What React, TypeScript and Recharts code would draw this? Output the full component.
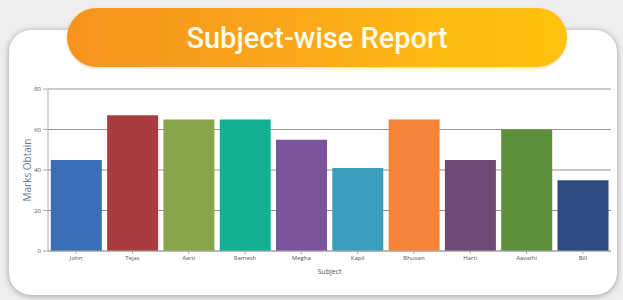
import React from 'react';
import { BarChart, Bar, XAxis, YAxis, CartesianGrid, Cell } from 'recharts';

const students = ['John', 'Tejas', 'Aarti', 'Ramesh', 'Megha', 'Kapil', 'Bhuvan', 'Harti', 'Aavathi', 'Bill'];
const marks = [45, 67, 65, 65, 55, 41, 65, 45, 60, 35];
const barColors = ['#3a6fb8', '#a83c41', '#87a64c', '#14b094', '#7a559c', '#3a9dba', '#f4843a', '#6d4b74', '#5e8f3b', '#2d4a80'];
const yTicks = [0, 20, 40, 60, 80];

const data = students.map((name, i) => ({ name, marks: marks[i] }));

export default function App() {
  return (
    <div style={{ position: 'absolute', left: 0, top: 0, width: 623, height: 300, background: '#eeeeee', overflow: 'hidden' }}>
      <div style={{ position: 'absolute', left: 9, top: 30, width: 608, height: 265, background: '#ffffff', borderRadius: 22, boxShadow: '0 1px 6px rgba(0,0,0,0.35)' }} />
      <div style={{ position: 'absolute', left: 67, top: 8, width: 500, height: 59, borderRadius: 30, background: 'linear-gradient(90deg, #f7931e 0%, #faa61a 45%, #fdbb12 75%, #ffc20e 100%)', boxShadow: '0 1px 3px rgba(200,120,0,0.3)', display: 'flex', alignItems: 'center', justifyContent: 'center', color: '#fffbea', fontFamily: 'Roboto, sans-serif', fontSize: 29, fontWeight: 500 }}>
        Subject-wise Report
      </div>
      <div style={{ position: 'absolute', left: 0, top: 0 }}>
        <BarChart width={623} height={300} data={data} margin={{ top: 89, right: 12, bottom: 24, left: 0 }} barCategoryGap="5%">
          <CartesianGrid vertical={false} stroke="#949494" />
          <XAxis dataKey="name" height={25} tick={{ fontSize: 6, fill: '#555', fontFamily: 'Open Sans, sans-serif' }} tickSize={3} stroke="#aaa"
            label={{ value: 'Subject', position: 'insideBottom', offset: 2, style: { fontSize: 7, fill: '#555', fontFamily: 'Open Sans, sans-serif' } }} />
          <YAxis domain={[0, 80]} ticks={yTicks} width={48} tick={{ fontSize: 6, fill: '#555', fontFamily: 'Open Sans, sans-serif' }} tickSize={5} stroke="#aaa"
            label={{ value: 'Marks Obtain', angle: -90, position: 'insideLeft', offset: 27, style: { textAnchor: 'middle', fontSize: 10, fill: '#66789a', fontFamily: 'Open Sans, sans-serif' } }} />
          <Bar dataKey="marks" isAnimationActive={false}>
            {data.map((d, i) => (
              <Cell key={d.name} fill={barColors[i]} />
            ))}
          </Bar>
        </BarChart>
      </div>
    </div>
  );
}
